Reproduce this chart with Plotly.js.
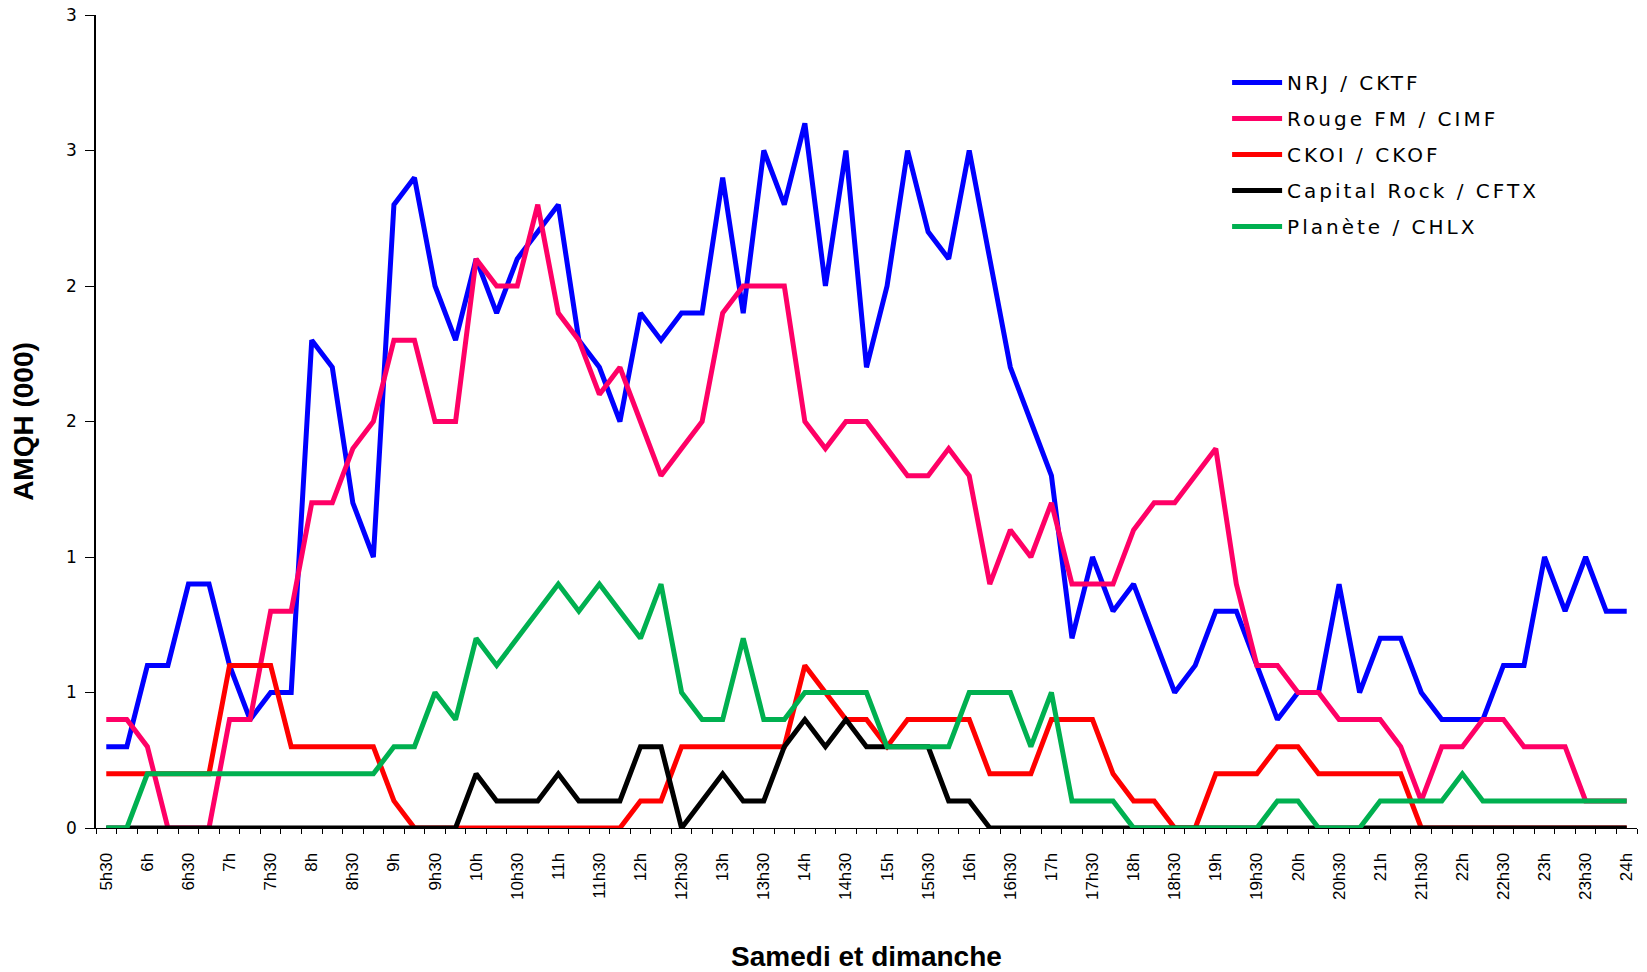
<!DOCTYPE html>
<html>
<head>
<meta charset="utf-8">
<script src="https://cdn.plot.ly/plotly-3.0.1.min.js"></script>
<style>
  html, body { margin: 0; padding: 0; background: #ffffff; }
  #chart { width: 1647px; height: 972px; }
  .legendtext { letter-spacing: 3px; }
</style>
</head>
<body>
<div id="chart"></div>
<script>
// Time slots (every 15 minutes), Saturday and Sunday
var categories = [
  "5h30","5h45","6h","6h15","6h30","6h45","7h","7h15","7h30","7h45",
  "8h","8h15","8h30","8h45","9h","9h15","9h30","9h45","10h","10h15",
  "10h30","10h45","11h","11h15","11h30","11h45","12h","12h15","12h30","12h45",
  "13h","13h15","13h30","13h45","14h","14h15","14h30","14h45","15h","15h15",
  "15h30","15h45","16h","16h15","16h30","16h45","17h","17h15","17h30","17h45",
  "18h","18h15","18h30","18h45","19h","19h15","19h30","19h45","20h","20h15",
  "20h30","20h45","21h","21h15","21h30","21h45","22h","22h15","22h30","22h45",
  "23h","23h15","23h30","23h45","24h"
];

// Labels shown on the x axis (every 30 minutes)
var xTickLabels = [
  "5h30","6h","6h30","7h","7h30","8h","8h30","9h","9h30","10h",
  "10h30","11h","11h30","12h","12h30","13h","13h30","14h","14h30","15h",
  "15h30","16h","16h30","17h","17h30","18h","18h30","19h","19h30","20h",
  "20h30","21h","21h30","22h","22h30","23h","23h30","24h"
];

// Y axis ticks (values) and their displayed labels (rounded as in the original)
var yTickVals = [0, 0.5, 1, 1.5, 2, 2.5, 3];
var yTickText = ["0", "1", "1", "2", "2", "3", "3"];

// Series names and colours
var seriesNames = ["NRJ / CKTF", "Rouge FM / CIMF", "CKOI / CKOF", "Capital Rock / CFTX", "Plan\u00e8te / CHLX"];
var seriesColors = ["#0000FF", "#FF0066", "#FF0000", "#000000", "#00B050"];

// AMQH (000) values
var nrj = [
  0.3,0.3,0.6,0.6,0.9,0.9,0.6,0.4,0.5,0.5,
  1.8,1.7,1.2,1.0,2.3,2.4,2.0,1.8,2.1,1.9,
  2.1,2.2,2.3,1.8,1.7,1.5,1.9,1.8,1.9,1.9,
  2.4,1.9,2.5,2.3,2.6,2.0,2.5,1.7,2.0,2.5,
  2.2,2.1,2.5,2.1,1.7,1.5,1.3,0.7,1.0,0.8,
  0.9,0.7,0.5,0.6,0.8,0.8,0.6,0.4,0.5,0.5,
  0.9,0.5,0.7,0.7,0.5,0.4,0.4,0.4,0.6,0.6,
  1.0,0.8,1.0,0.8,0.8
];
var rouge = [
  0.4,0.4,0.3,0,0,0,0.4,0.4,0.8,0.8,
  1.2,1.2,1.4,1.5,1.8,1.8,1.5,1.5,2.1,2.0,
  2.0,2.3,1.9,1.8,1.6,1.7,1.5,1.3,1.4,1.5,
  1.9,2.0,2.0,2.0,1.5,1.4,1.5,1.5,1.4,1.3,
  1.3,1.4,1.3,0.9,1.1,1.0,1.2,0.9,0.9,0.9,
  1.1,1.2,1.2,1.3,1.4,0.9,0.6,0.6,0.5,0.5,
  0.4,0.4,0.4,0.3,0.1,0.3,0.3,0.4,0.4,0.3,
  0.3,0.3,0.1,0.1,0.1
];
var ckoi = [
  0.2,0.2,0.2,0.2,0.2,0.2,0.6,0.6,0.6,0.3,
  0.3,0.3,0.3,0.3,0.1,0,0,0,0,0,
  0,0,0,0,0,0,0.1,0.1,0.3,0.3,
  0.3,0.3,0.3,0.3,0.6,0.5,0.4,0.4,0.3,0.4,
  0.4,0.4,0.4,0.2,0.2,0.2,0.4,0.4,0.4,0.2,
  0.1,0.1,0,0,0.2,0.2,0.2,0.3,0.3,0.2,
  0.2,0.2,0.2,0.2,0,0,0,0,0,0,
  0,0,0,0,0
];
var capitalRock = [
  0,0,0,0,0,0,0,0,0,0,
  0,0,0,0,0,0,0,0,0.2,0.1,
  0.1,0.1,0.2,0.1,0.1,0.1,0.3,0.3,0,0.1,
  0.2,0.1,0.1,0.3,0.4,0.3,0.4,0.3,0.3,0.3,
  0.3,0.1,0.1,0,0,0,0,0,0,0,
  0,0,0,0,0,0,0,0,0,0,
  0,0,0,0,0,0,0,0,0,0,
  0,0,0,0,0
];
var planete = [
  0,0,0.2,0.2,0.2,0.2,0.2,0.2,0.2,0.2,
  0.2,0.2,0.2,0.2,0.3,0.3,0.5,0.4,0.7,0.6,
  0.7,0.8,0.9,0.8,0.9,0.8,0.7,0.9,0.5,0.4,
  0.4,0.7,0.4,0.4,0.5,0.5,0.5,0.5,0.3,0.3,
  0.3,0.3,0.5,0.5,0.5,0.3,0.5,0.1,0.1,0.1,
  0,0,0,0,0,0,0,0.1,0.1,0,
  0,0,0.1,0.1,0.1,0.1,0.2,0.1,0.1,0.1,
  0.1,0.1,0.1,0.1,0.1
];

var seriesValues = [nrj, rouge, ckoi, capitalRock, planete];

var traces = seriesValues.map(function (vals, k) {
  return {
    type: "scatter",
    mode: "lines",
    name: seriesNames[k],
    legendgroup: "g" + k,
    x: categories,
    y: vals,
    line: { color: seriesColors[k], width: 5, shape: "linear" },
    hoverinfo: "x+y+name"
  };
});

var xTickText = categories.map(function (c) {
  return xTickLabels.indexOf(c) >= 0 ? c : "";
});

var layout = {
  width: 1647,
  height: 972,
  paper_bgcolor: "#ffffff",
  plot_bgcolor: "#ffffff",
  margin: { l: 96, r: 10, t: 15, b: 144, autoexpand: false },
  showlegend: true,
  legend: {
    xref: "paper", yref: "paper",
    x: 0.734, y: 0.941, xanchor: "left", yanchor: "top",
    bgcolor: "rgba(0,0,0,0)",
    font: { family: "DejaVu Sans, Verdana, sans-serif", size: 20, color: "#000000" },
    tracegroupgap: 7,
    itemwidth: 50
  },
  xaxis: {
    type: "category",
    range: [-0.5, 74.5],
    tickmode: "array",
    tickvals: categories,
    ticktext: xTickText,
    tickson: "boundaries",
    ticks: "outside",
    ticklen: 5,
    tickwidth: 1,
    tickcolor: "#000000",
    tickangle: -90,
    ticklabelstandoff: 17,
    tickfont: { family: "Liberation Sans Narrow, Arial Narrow, Liberation Sans, Arial, sans-serif", size: 17, color: "#000000" },
    showline: true,
    linecolor: "#000000",
    linewidth: 1,
    showgrid: false,
    zeroline: false,
    automargin: false,
    title: {
      text: "Samedi et dimanche",
      font: { family: "Liberation Sans, Arial, sans-serif", size: 28, weight: "bold", color: "#000000" },
      standoff: 52
    }
  },
  yaxis: {
    range: [0, 3],
    tickmode: "array",
    tickvals: yTickVals,
    ticktext: yTickText,
    ticks: "outside",
    ticklen: 9,
    tickwidth: 1,
    tickcolor: "#000000",
    tickfont: { family: "DejaVu Sans, Verdana, sans-serif", size: 17, color: "#000000" },
    ticklabelstandoff: 5,
    showline: true,
    linecolor: "#000000",
    linewidth: 1.5,
    showgrid: false,
    zeroline: false,
    automargin: false,
    title: {
      text: "AMQH (000)",
      font: { family: "Liberation Sans, Arial, sans-serif", size: 28, weight: "bold", color: "#000000" },
      standoff: 24
    }
  }
};

Plotly.newPlot("chart", traces, layout, { displayModeBar: false });
</script>
</body>
</html>
